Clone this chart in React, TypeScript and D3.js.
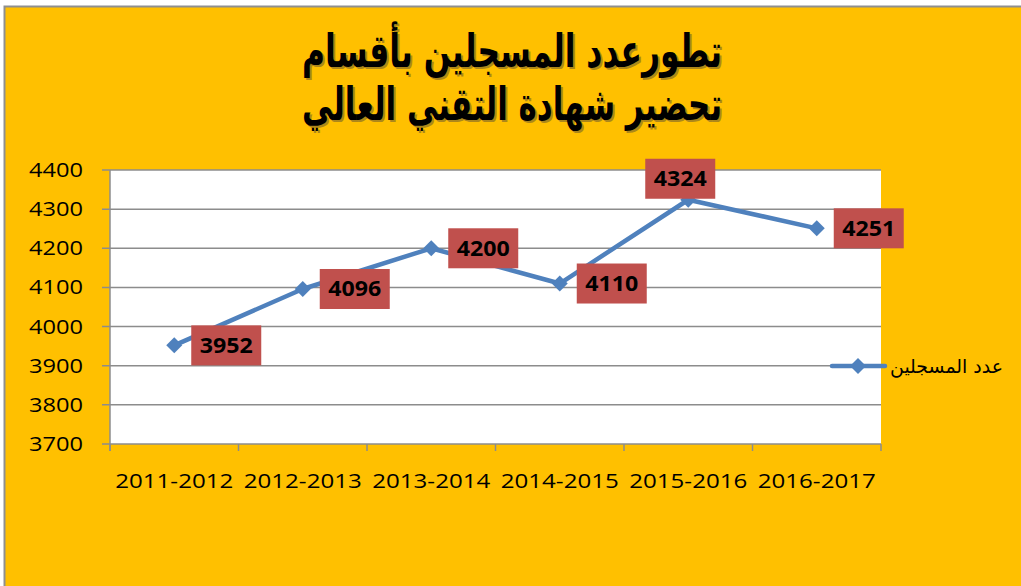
import React from "react";
import * as d3 from "d3";

const categories = ["2011-2012", "2012-2013", "2013-2014", "2014-2015", "2015-2016", "2016-2017"];
const values = [3952, 4096, 4200, 4110, 4324, 4251];
const labelSide = ["right", "right", "right", "right", "above", "right"];
const yTicks = [3700, 3800, 3900, 4000, 4100, 4200, 4300, 4400];
const titleLines = ["تطورعدد المسجلين بأقسام", "تحضير شهادة التقني العالي"];
const seriesName = "عدد المسجلين";

const W = 1021;
const H = 586;
const plot = { left: 110, right: 881, top: 170, bottom: 444 };
const LINE = "#4F81BD";
const LABEL_BG = "#C0504D";
const GRID = "#8C8C8C";
const BG = "#FFC000";
const titleBaselines = [67, 120];

export default function App() {
  const x = d3.scaleBand<string>().domain(categories).range([plot.left, plot.right]);
  const y = d3.scaleLinear().domain([3700, 4400]).range([plot.bottom, plot.top]);
  const cx = (c: string) => (x(c) as number) + x.bandwidth() / 2;
  const line = d3
    .line<number>()
    .x((_, i) => cx(categories[i]))
    .y((v) => y(v));
  const diamond = (px: number, py: number, r: number) =>
    `M${px},${py - r}L${px + r},${py}L${px},${py + r}L${px - r},${py}Z`;
  const boundaries = [...categories.map((c) => x(c) as number), plot.right];

  return (
    <svg
      width={W}
      height={H}
      style={{ position: "absolute", left: 0, top: 0, background: "#fff" }}
    >
      <rect x={4.5} y={6.5} width={W + 10} height={H + 10} fill={BG} stroke="#8f8f8f" strokeWidth={2} />
      {/* Title */}
      {titleLines.map((t, i) => (
        <g key={i} fontFamily="'DejaVu Sans', sans-serif" fontWeight="bold" fontSize={46} textAnchor="middle" direction="rtl">
          <text x={512 + 2} y={titleBaselines[i] + 2} fill="#6b5a30" opacity={0.55} textLength={420} lengthAdjust="spacingAndGlyphs">
            {t}
          </text>
          <text x={512} y={titleBaselines[i]} fill="#000" textLength={420} lengthAdjust="spacingAndGlyphs">
            {t}
          </text>
        </g>
      ))}
      {/* plot area */}
      <rect x={plot.left} y={plot.top} width={plot.right - plot.left} height={plot.bottom - plot.top} fill="#fff" />
      {yTicks.map((t) => (
        <g key={t}>
          <line x1={plot.left - 8} x2={plot.right} y1={y(t)} y2={y(t)} stroke={GRID} strokeWidth={1.5} />
          <text
            x={83}
            y={y(t) + 7}
            textAnchor="end"
            fontFamily="'Open Sans', sans-serif"
            fontSize={20}
            fill="#000"
            textLength={54}
            lengthAdjust="spacingAndGlyphs"
          >
            {t}
          </text>
        </g>
      ))}
      <line x1={plot.left} x2={plot.left} y1={plot.top} y2={plot.bottom + 7} stroke={GRID} strokeWidth={1.5} />
      {boundaries.map((b, i) => (
        <line key={i} x1={b} x2={b} y1={plot.bottom} y2={plot.bottom + 7} stroke={GRID} strokeWidth={1.5} />
      ))}
      {categories.map((c) => (
        <text
          key={c}
          x={cx(c)}
          y={488}
          textAnchor="middle"
          fontFamily="'Open Sans', sans-serif"
          fontSize={20}
          fill="#000"
          textLength={118}
          lengthAdjust="spacingAndGlyphs"
        >
          {c}
        </text>
      ))}
      {/* series */}
      <path d={line(values) || ""} fill="none" stroke={LINE} strokeWidth={4.5} strokeLinejoin="round" strokeLinecap="round" />
      {values.map((v, i) => (
        <path key={i} d={diamond(cx(categories[i]), y(v), 8)} fill={LINE} />
      ))}
      {/* labels */}
      {values.map((v, i) => {
        const px = cx(categories[i]);
        const py = y(v);
        const bw = 70;
        const bh = 40;
        let bx: number, by: number;
        if (labelSide[i] === "above") {
          bx = px - 43;
          by = py - bh - 1;
        } else {
          bx = px + 17;
          by = py - bh / 2;
        }
        return (
          <g key={i}>
            <rect x={bx} y={by} width={bw} height={bh} fill={LABEL_BG} />
            <text
              x={bx + bw / 2}
              y={by + bh / 2 + 7.5}
              textAnchor="middle"
              fontFamily="'Open Sans', sans-serif"
              fontWeight="bold"
              fontSize={21}
              fill="#000"
              textLength={53}
              lengthAdjust="spacingAndGlyphs"
            >
              {v}
            </text>
          </g>
        );
      })}
      {/* legend */}
      <line x1={832} x2={885} y1={366} y2={366} stroke={LINE} strokeWidth={4.5} strokeLinecap="round" />
      <path d={diamond(858, 366, 8)} fill={LINE} />
      <text
        x={1003}
        y={373}
        textAnchor="start"
        direction="rtl"
        fontFamily="'DejaVu Sans', sans-serif"
        fontSize={19}
        fill="#000"
        textLength={113}
        lengthAdjust="spacingAndGlyphs"
      >
        {seriesName}
      </text>
    </svg>
  );
}
